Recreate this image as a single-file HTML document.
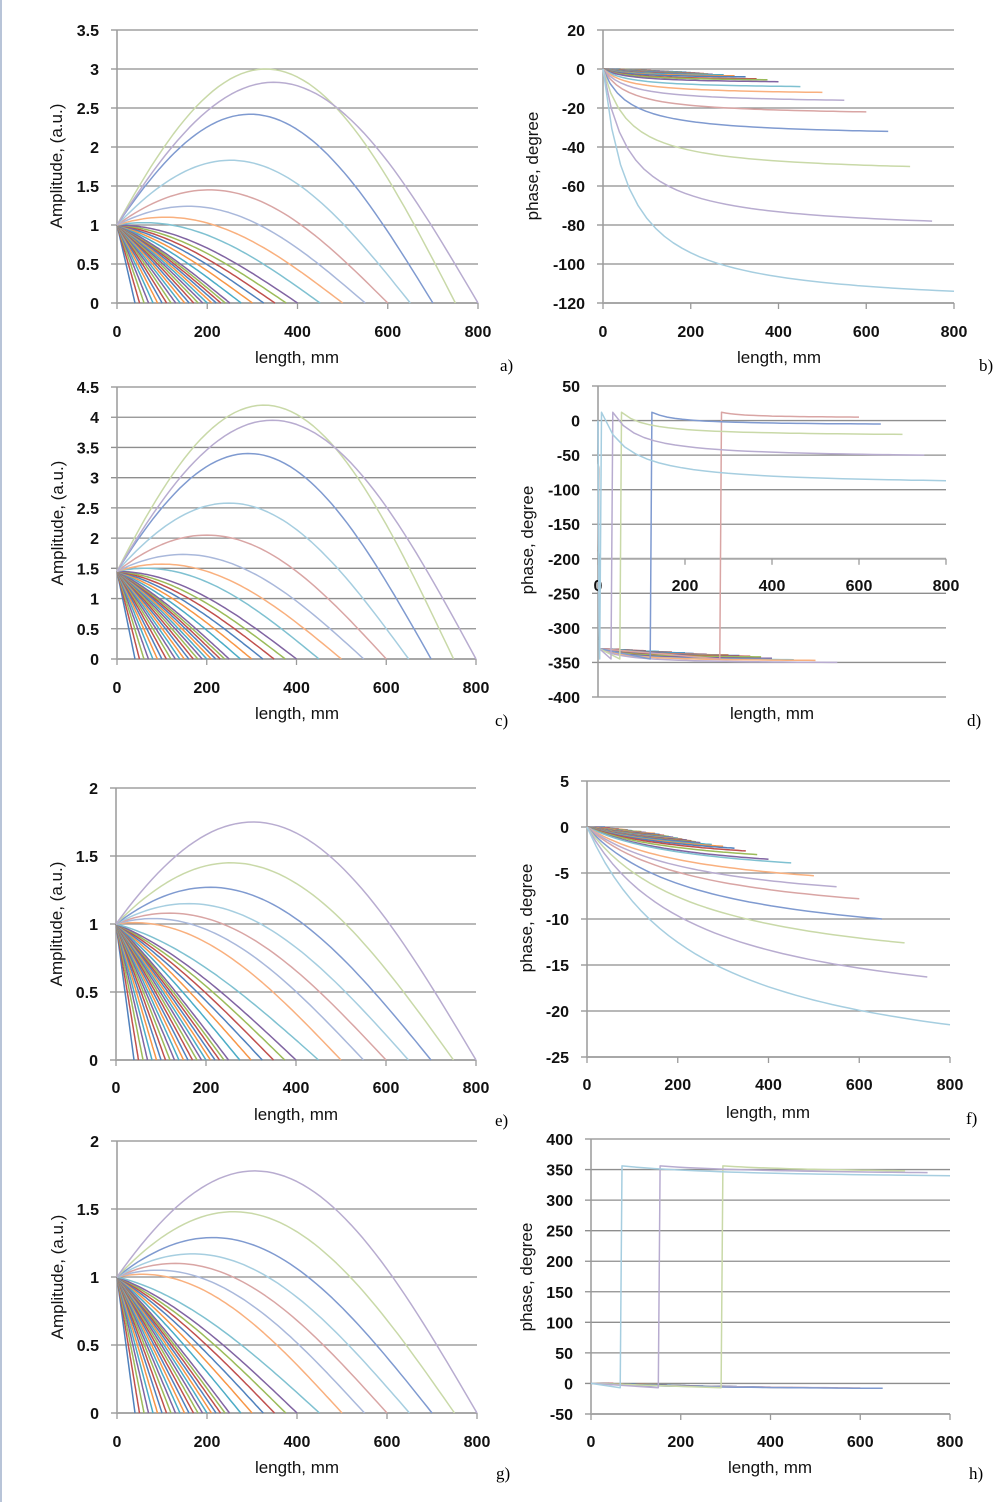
<!DOCTYPE html>
<html><head><meta charset="utf-8"><style>
html,body{margin:0;padding:0;background:#fff;}
svg{display:block;font-family:"Liberation Sans",sans-serif;}
.tk{font-size:16px;font-weight:bold;fill:#111;}
.ttl{font-size:17px;fill:#111;}
.lt{font-family:"Liberation Serif",serif;font-size:17px;fill:#000;}
</style></head><body>
<svg id="fig" width="1008" height="1502" viewBox="0 0 1008 1502" xmlns="http://www.w3.org/2000/svg">
<rect x="0" y="0" width="1008" height="1502" fill="#fff"/>
<line x1="1" y1="0" x2="1" y2="1502" stroke="#b8c4d8" stroke-width="2"/>
</svg>
<script>
// ---- data ----
const lengths = [40,50,60,70,80,90,100,110,120,130,140,150,160,170,180,190,200,210,220,230,240,250,275,300,325,350,375,400,450,500,550,600,650,700,750,800];
const longLengths = [450,500,550,600,650,700,750,800];
const peaksA = [1.03,1.1,1.24,1.45,1.83,2.42,3.0,2.83];
const peaksC = [1.5,1.57,1.73,2.05,2.58,3.4,4.2,3.95];
const peaksE = [1.0,1.01,1.04,1.08,1.15,1.27,1.45,1.75];
const peaksG = [1.0,1.02,1.05,1.1,1.17,1.29,1.48,1.78];
const phaseB = [0,-0.2,-0.3,-0.4,-0.5,-0.6,-0.7,-0.8,-0.9,-1,-1.1,-1.2,-1.3,-1.4,-1.5,-1.6,-1.8,-2,-2.1,-2.3,-2.5,-2.7,-3,-3.5,-4,-5,-5.5,-6.5,-9,-12,-16,-22,-32,-50,-78,-114];
const phaseF = [0,-0.1,-0.2,-0.2,-0.3,-0.3,-0.4,-0.5,-0.5,-0.6,-0.7,-0.7,-0.8,-0.9,-1,-1.1,-1.2,-1.3,-1.4,-1.5,-1.6,-1.7,-1.9,-2.1,-2.3,-2.6,-3.0,-3.5,-3.9,-5.3,-6.5,-7.8,-10,-12.6,-16.3,-21.5];
const phaseD = [-331,-331,-332,-332,-332,-333,-333,-333,-334,-334,-334,-335,-335,-335,-336,-336,-336,-337,-337,-338,-338,-338,-339,-339,-340,-341,-342,-344,-346,-347,-350,5,-5,-20,-50,-87];
const jumpD = [0,0,0,0,0,0,0,0,0,0,0,0,0,0,0,0,0,0,0,0,0,0,0,0,0,0,0,0,0,0,0,280,120,50,30,4];
const phaseH = [0,0,-0.5,-0.5,-1,-1,-1,-1.5,-1.5,-2,-2,-2,-2.5,-2.5,-3,-3,-3,-3.5,-3.5,-4,-4,-4,-4.5,-5,-5,-5.5,-6,-6,-6.5,-7,-7,-7.5,-8,348,345,340];
const jumpH = [0,0,0,0,0,0,0,0,0,0,0,0,0,0,0,0,0,0,0,0,0,0,0,0,0,0,0,0,0,0,0,0,0,290,150,65];
const xTicks = [0,200,400,600,800];
const palette = ['#4F81BD','#C0504D','#9BBB59','#8064A2','#4BACC6','#F79646'];
const longColorsAmp = ['#7FC1D1','#F9B07E','#A9B8DB','#D9A5A4','#A6CEE0','#7F9AD0','#C9D9A8','#B8ACD0'];
const longColorsPhase = ['#7FC1D1','#F9B07E','#B8ACD0','#D9A5A4','#7F9AD0','#C9D9A8','#B8ACD0','#A6CEE0'];

const NS='http://www.w3.org/2000/svg';
const svg=document.getElementById('fig');
function mk(tag,attrs,parent){const e=document.createElementNS(NS,tag);for(const k in attrs)e.setAttribute(k,attrs[k]);(parent||svg).appendChild(e);return e;}
function colorOf(i,lc){const li=longLengths.indexOf(lengths[i]);return li>=0?lc[li]:palette[i%6];}

function panel(p){
  const g=mk('g',{});
  
  
  const sx=v=>p.x0+(v-0)/800*(p.x1-p.x0);
  const sy=v=>p.y0+(v-p.ymin)/(p.ymax-p.ymin)*(p.y1-p.y0);
  const n=Math.round((p.ymax-p.ymin)/p.step);
  for(let i=0;i<=n;i++){
    const v=p.ymin+i*p.step, y=sy(v);
    const gl=mk('line',{x1:p.x0-6,x2:p.x1,y1:y,y2:y,stroke:'#8e8e8e','stroke-width':1.3},g);
    
    
    const t=mk('text',{x:p.x0-18,y:y+6,'text-anchor':'end',class:'tk'},g);
    
    
    t.textContent=String(+v.toFixed(2));
  }
  const ax=sy(p.axisAt);
  mk('line',{x1:p.x0,x2:p.x0,y1:p.y1,y2:p.y0,stroke:'#9a9a9a','stroke-width':1.5},g);
  mk('line',{x1:p.x0,x2:p.x1,y1:ax,y2:ax,stroke:'#a8a8a8','stroke-width':2},g);
  xTicks.forEach(v=>{
    mk('line',{x1:sx(v),x2:sx(v),y1:ax,y2:ax+6,stroke:'#9a9a9a','stroke-width':1.3},g);
    const t=mk('text',{x:sx(v),y:ax+p.xlabOff,'text-anchor':'middle',class:'tk'},g);
    
    
    t.textContent=v;
  });
  lengths.forEach((L,i)=>{
    const pts=p.curve(i,L);
    const d=pts.map((q,j)=>(j?'L':'M')+sx(q[0]).toFixed(1)+' '+sy(q[1]).toFixed(1)).join(' ');
    const path=mk('path',{d:d,fill:'none',stroke:colorOf(i,p.lc),'stroke-width':1.5,'stroke-linejoin':'round'},g);
    
    
  });
  const yt=mk('text',{x:p.yl[0],y:p.yl[1],'text-anchor':'middle',class:'ttl',transform:'rotate(-90 '+p.yl[0]+' '+p.yl[1]+')'},g);
  
  
  yt.textContent=p.ytitle;
  const xt=mk('text',{x:p.xl[0],y:p.xl[1],'text-anchor':'middle',class:'ttl'},g);
  
  
  xt.textContent='length, mm';
  const lt=mk('text',{x:p.lt[0],y:p.lt[1],class:'lt'},g);
  
  
  lt.textContent=p.id+')';
}

function ampCurve(peaks,S,k){
  return (i,L)=>{
    const li=longLengths.indexOf(L);
    let kL=k*L;
    if(li>=0 && peaks[li]>S) kL=Math.PI-Math.asin(S/peaks[li]);
    if(kL>=Math.PI) kL=Math.PI-0.01;
    const pts=[];
    for(let j=0;j<=60;j++){const x=L*j/60;pts.push([x,S*Math.sin(kL*(L-x)/L)/Math.sin(kL)]);}
    return pts;
  };
}
function phaseCurve(fin,tau,jumps,pre,top){
  return (i,L)=>{
    const F=fin[i], J=jumps?jumps[i]:0, pts=[];
    const gf=x=>x/(x+tau);
    if(!J){
      if(pre!==undefined){
        pts.push([0,0]);pts.push([3,pre]);
        for(let j=1;j<=30;j++){const x=3+(L-3)*j/30;pts.push([x,pre+(F-pre)*gf(x-3)/gf(L-3)]);}
      } else {
        for(let j=0;j<=40;j++){const x=L*j/40;pts.push([x,F*gf(x)/gf(L)]);}
      }
    } else {
      pts.push([0,0]);
      if(pre!==undefined){pts.push([3,pre]);pts.push([J,pre-15]);}
      else pts.push([J,-7]);
      pts.push([J+4,top]);
      for(let j=1;j<=30;j++){const x=J+4+(L-J-4)*j/30;pts.push([x,top+(F-top)*gf(x-J-4)/gf(L-J-4)]);}
    }
    return pts;
  };
}

panel({id:'a',lc:longColorsAmp,x0:117,x1:478,y0:303,y1:30,ymin:0,ymax:3.5,step:0.5,axisAt:0,xlabOff:34,yl:[62,166],xl:[297,363],lt:[500,371],ytitle:'Amplitude, (a.u.)',curve:ampCurve(peaksA,1,0.0039)});
panel({id:'b',lc:longColorsPhase,x0:603,x1:954,y0:303,y1:30,ymin:-120,ymax:20,step:20,axisAt:-120,xlabOff:34,yl:[538,166],xl:[779,363],lt:[979,371],ytitle:'phase, degree',curve:phaseCurve(phaseB,60)});
panel({id:'c',lc:longColorsAmp,x0:117,x1:476,y0:659,y1:387,ymin:0,ymax:4.5,step:0.5,axisAt:0,xlabOff:34,yl:[63,523],xl:[297,719],lt:[495,726],ytitle:'Amplitude, (a.u.)',curve:ampCurve(peaksC,1.45,0.0039)});
panel({id:'d',lc:longColorsPhase,x0:598,x1:946,y0:697,y1:386,ymin:-400,ymax:50,step:50,axisAt:-200,xlabOff:32,yl:[533,540],xl:[772,719],lt:[967,726],ytitle:'phase, degree',curve:phaseCurve(phaseD,60,jumpD,-330,12)});
panel({id:'e',lc:longColorsAmp,x0:116,x1:476,y0:1060,y1:788,ymin:0,ymax:2,step:0.5,axisAt:0,xlabOff:33,yl:[62,924],xl:[296,1120],lt:[495,1126],ytitle:'Amplitude, (a.u.)',curve:ampCurve(peaksE,1,0.0028)});
panel({id:'f',lc:longColorsPhase,x0:587,x1:950,y0:1057,y1:781,ymin:-25,ymax:5,step:5,axisAt:-25,xlabOff:33,yl:[532,918],xl:[768,1118],lt:[966,1124],ytitle:'phase, degree',curve:phaseCurve(phaseF,250)});
panel({id:'g',lc:longColorsAmp,x0:117,x1:477,y0:1413,y1:1141,ymin:0,ymax:2,step:0.5,axisAt:0,xlabOff:34,yl:[63,1277],xl:[297,1473],lt:[496,1479],ytitle:'Amplitude, (a.u.)',curve:ampCurve(peaksG,1,0.0029)});
panel({id:'h',lc:longColorsPhase,x0:591,x1:950,y0:1414,y1:1139,ymin:-50,ymax:400,step:50,axisAt:-50,xlabOff:33,yl:[532,1277],xl:[770,1473],lt:[969,1479],ytitle:'phase, degree',curve:phaseCurve(phaseH,300,jumpH,undefined,356)});
</script>
</body></html>
